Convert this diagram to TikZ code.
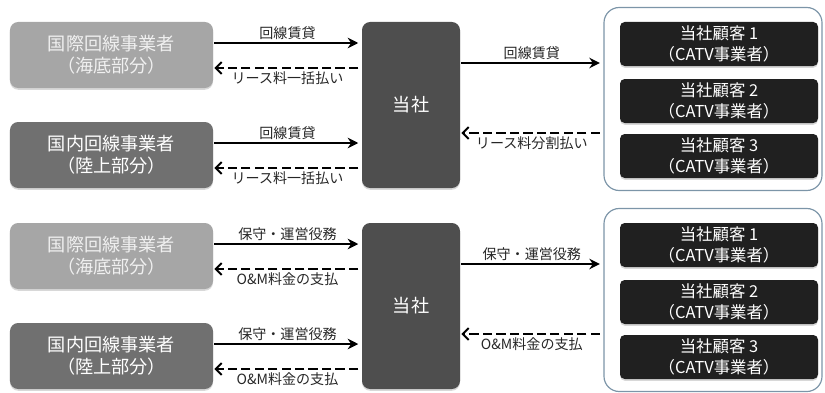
\documentclass[tikz,border=0pt]{standalone}
\usepackage{fontspec}
\setmainfont{Noto Sans CJK JP}
\usetikzlibrary{positioning,arrows.meta,shadows}
\definecolor{intlgray}{HTML}{A6A6A6}
\definecolor{domgray}{HTML}{707070}
\definecolor{usgray}{HTML}{4E4E4E}
\definecolor{custblack}{HTML}{202020}
\definecolor{grpblue}{HTML}{7C95A8}
\tikzset{
  box/.style      = {shape=rectangle, rounded corners=7pt, align=center,
                     text=white, inner sep=0pt,
                     font=\fontsize{15.5}{19}\selectfont,
                     drop shadow={shadow xshift=0pt, shadow yshift=-1.5pt,
                                  fill=black!30, opacity=0.5}},
  carrier/.style  = {box, minimum width=6.09cm, minimum height=1.98cm},
  intlbox/.style  = {carrier, fill=intlgray, text=white!94!black},
  dombox/.style   = {carrier, fill=domgray},
  usbox/.style    = {box, fill=usgray, minimum width=2.94cm, minimum height=4.98cm},
  custbox/.style  = {box, fill=custblack, rounded corners=4pt,
                     font=\fontsize{14}{18.5}\selectfont,
                     minimum width=5.94cm, minimum height=1.32cm},
  custgroup/.style= {draw=grpblue, line width=1pt, fill=white,
                     rounded corners=13pt, minimum width=6.54cm, minimum height=5.49cm},
  solidarr/.style = {line width=1.7pt, -{Stealth[length=9pt,width=9pt]},
                     shorten >=3pt, shorten <=1pt},
  dasharr/.style  = {line width=1.7pt, dash pattern=on 8pt off 3.5pt,
                     -{Straight Barb[length=5pt,width=10pt]}, shorten >=1pt, shorten <=3pt},
  lbl/.style      = {font=\fontsize{12}{14}\selectfont, text=black!85, inner sep=2pt},
}
\begin{document}
\begin{tikzpicture}[x=0.03cm, y=-0.03cm]
  \useasboundingbox (0,0) rectangle (825,392);
  \foreach \p/\oy/\give/\pay/\paycust in
      {1/0/回線賃貸/リース料一括払い/リース料分割払い,
       2/201/保守・運営役務/O\&M料金の支払/O\&M料金の支払}{
    % carriers, us, customers
    \node [intlbox] (intl\p) at (111.5,55+\oy) {国際回線事業者\\（海底部分）};
    \node [dombox]  (dom\p)  at (111.5,155+\oy) {国内回線事業者\\（陸上部分）};
    \node [usbox]   (us\p)   at (411,105+\oy) {当社};
    \node [custgroup] (grp\p) at (713,99+\oy) {};
    \foreach \k/\cy in {1/44,2/101,3/156}
      \node [custbox] (cust\p\k) at (719,\cy+\oy) {当社顧客 \k\\（CATV事業者）};
    % carriers <-> us
    \foreach \c in {intl\p,dom\p}{
      \path ([yshift=0.36cm]\c.east) coordinate (s)
            ([yshift=-0.39cm]\c.east) coordinate (t);
      \draw [solidarr] (s) -- (s -| us\p.west) node [midway, above, lbl] {\give};
      \draw [dasharr] (t -| us\p.west) -- (t) node [midway, below, lbl] {\pay};
    }
    % us <-> customers
    \path ([yshift=1.26cm]us\p.east) coordinate (r)
          ([yshift=-0.84cm]us\p.east) coordinate (q);
    \draw [solidarr] (r) -- (r -| grp\p.west) node [midway, above, lbl] {\give};
    \draw [dasharr] (q -| grp\p.west) -- (q) node [midway, below, lbl] {\paycust};
  }
\end{tikzpicture}
\end{document}
